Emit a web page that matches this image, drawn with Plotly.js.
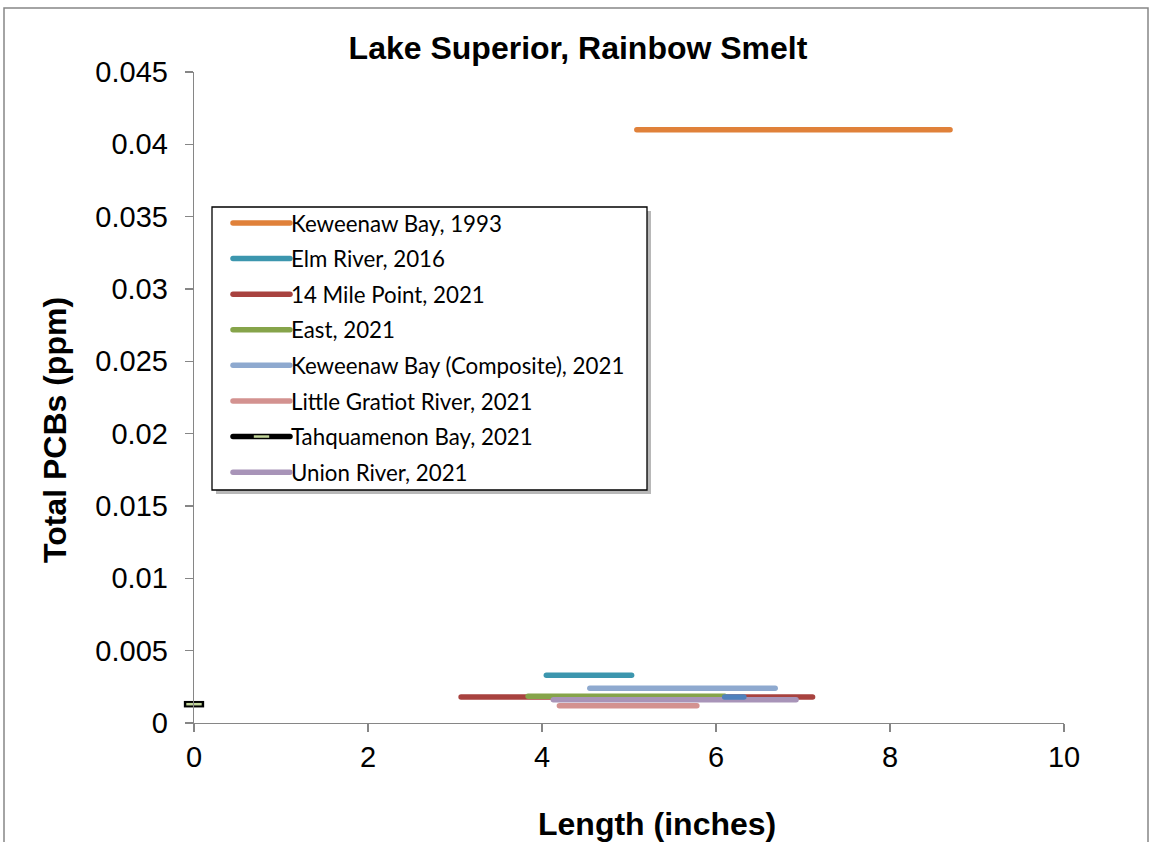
<!DOCTYPE html>
<html>
<head>
<meta charset="utf-8">
<script src="https://cdn.plot.ly/plotly-3.0.1.min.js"></script>
<style>
html, body { margin: 0; padding: 0; background: #fff; }
#chart { width: 1156px; height: 842px; }
</style>
</head>
<body>
<div id="chart"></div>
<script>
// ---- Data ----
const seriesNames = [
  "Keweenaw Bay, 1993",
  "Elm River, 2016",
  "14 Mile Point, 2021",
  "East, 2021",
  "Keweenaw Bay (Composite), 2021",
  "Little Gratiot River, 2021",
  "Tahquamenon Bay, 2021",
  "Union River, 2021"
];
const kb1993X = [5.09, 8.69];       const kb1993Y = [0.041, 0.041];
const elm2016X = [4.05, 5.03];      const elm2016Y = [0.0033, 0.0033];
const mile14X = [3.07, 7.11];       const mile14Y = [0.0018, 0.0018];
const eastX = [3.84, 6.1];          const eastY = [0.00185, 0.00185];
const kbCompX = [4.55, 6.68];       const kbCompY = [0.0024, 0.0024];
const gratiotX = [4.2, 5.78];       const gratiotY = [0.0012, 0.0012];
const tahqX = [0];                  const tahqY = [0.0013];
const unionX = [4.13, 6.92];        const unionY = [0.0016, 0.0016];
const extraX = [6.1, 6.32];         const extraY = [0.0018, 0.0018];

const xTickVals = [0, 2, 4, 6, 8, 10];
const xTickText = ["0", "2", "4", "6", "8", "10"];
const yTickVals = [0, 0.005, 0.01, 0.015, 0.02, 0.025, 0.03, 0.035, 0.04, 0.045];
const yTickText = ["0", "0.005", "0.01", "0.015", "0.02", "0.025", "0.03", "0.035", "0.04", "0.045"];

const colors = ["#e0813a", "#3c96ae", "#a8423f", "#86a44a", "#8ea9cf", "#d39290", "#000000", "#a894b8"];
const LW = 5.5;
const legendFont = "Lato, 'Open Sans', sans-serif";

function lineTrace(x, y, i) {
  return { type: "scatter", mode: "lines", x: x, y: y, name: seriesNames[i], legendgroup: "g" + i,
           line: { color: colors[i], width: LW }, hoverinfo: "skip" };
}

const traces = [
  lineTrace(kb1993X, kb1993Y, 0),
  lineTrace(elm2016X, elm2016Y, 1),
  lineTrace(mile14X, mile14Y, 2),
  lineTrace(eastX, eastY, 3),
  lineTrace(kbCompX, kbCompY, 4),
  lineTrace(gratiotX, gratiotY, 5),
  // black backing for Tahquamenon marker (no legend)
  { type: "scatter", mode: "markers", x: tahqX, y: tahqY, showlegend: false, cliponaxis: false, legendgroup: "g6",
    marker: { symbol: "line-ew", size: 14.5, color: "#000", line: { color: "#000", width: 6.5 } }, hoverinfo: "skip" },
  { type: "scatter", mode: "lines+markers", x: tahqX, y: tahqY, name: seriesNames[6], cliponaxis: false, legendgroup: "g6",
    line: { color: "#000", width: LW },
    marker: { symbol: "line-ew", size: 11, color: "#c3d69b", line: { color: "#c3d69b", width: 2.5 } }, hoverinfo: "skip" },
  lineTrace(unionX, unionY, 7),
  { type: "scatter", mode: "lines", x: extraX, y: extraY, showlegend: false, legendgroup: "g9",
    line: { color: "#4f81bd", width: LW }, hoverinfo: "skip" }
];

const L = 194, R = 1064, T = 72, B = 723, W = 1156, H = 842;
const pw = R - L, ph = B - T;
const px = v => (v - L) / pw;
const py = v => (B - v) / ph;

const layout = {
  width: W, height: H,
  margin: { l: L, r: W - R, t: T, b: H - B, pad: 0 },
  paper_bgcolor: "#fff", plot_bgcolor: "#fff",
  font: { family: "Arial, 'Liberation Sans', sans-serif", color: "#000" },
  title: { text: "Lake Superior, Rainbow Smelt", x: 0.5, xref: "container", xanchor: "center",
           y: 1 - 48 / H, yref: "container", yanchor: "middle",
           font: { size: 32, weight: "bold", family: "Arial, 'Liberation Sans', sans-serif", color: "#000" } },
  xaxis: {
    range: [0, 10], tickvals: xTickVals, ticktext: xTickText,
    showgrid: false, zeroline: false, showline: true, linecolor: "#868686", linewidth: 1.3,
    ticks: "outside", ticklen: 8, tickcolor: "#868686", tickwidth: 1.3,
    tickfont: { size: 29, color: "#000" }, fixedrange: true
  },
  yaxis: {
    range: [0, 0.045], tickvals: yTickVals, ticktext: yTickText,
    showgrid: false, zeroline: false, showline: true, linecolor: "#868686", linewidth: 1.3,
    ticks: "outside", ticklen: 8, tickcolor: "#868686", tickwidth: 1.3,
    tickfont: { size: 29, color: "#000" }, ticklabelstandoff: 11, fixedrange: true
  },
  showlegend: true,
  legend: {
    x: px(212), y: py(202), xanchor: "left", yanchor: "top",
    bgcolor: "rgba(0,0,0,0)", borderwidth: 0,
    font: { size: 22.3, family: legendFont, color: "#000" },
    itemwidth: 69, tracegroupgap: 3.6, traceorder: "grouped"
  },
  annotations: [
    { text: "Total PCBs (ppm)", xref: "paper", yref: "paper", x: px(55), y: py(430),
      xanchor: "center", yanchor: "middle", textangle: -90, showarrow: false,
      font: { size: 32, weight: "bold", color: "#000" } },
    { text: "Length (inches)", xref: "paper", yref: "paper", x: px(657), y: py(824),
      xanchor: "center", yanchor: "middle", showarrow: false,
      font: { size: 32, weight: "bold", color: "#000" } }
  ],
  shapes: [
    // outer chart-area border
    { type: "rect", xref: "paper", yref: "paper", layer: "below",
      x0: px(4), x1: px(1148), y0: py(8), y1: py(900),
      line: { color: "#868686", width: 1.5 }, fillcolor: "rgba(0,0,0,0)" },
    // legend shadow
    { type: "rect", xref: "paper", yref: "paper", layer: "above",
      x0: px(216), x1: px(651), y0: py(211), y1: py(494),
      line: { width: 0 }, fillcolor: "rgba(0,0,0,0.28)" },
    // legend box
    { type: "rect", xref: "paper", yref: "paper", layer: "above",
      x0: px(212), x1: px(647), y0: py(207), y1: py(490),
      line: { color: "#000", width: 1.3 }, fillcolor: "#fff" }
  ]
};

Plotly.newPlot("chart", traces, layout, { displayModeBar: false, staticPlot: true }).then(gd => {
  // round caps for data lines (as in the reference)
  gd.querySelectorAll(".scatterlayer path.js-line").forEach(p => p.style.strokeLinecap = "round");
  // legend line samples: longer and offset like the reference
  gd.querySelectorAll(".legend .legendlines path").forEach(p => {
    p.setAttribute("d", "M21,0h57");
    p.style.strokeLinecap = "round";
  });
  gd.querySelectorAll(".legend .legendpoints path").forEach(p => {
    p.setAttribute("transform", "translate(49.5,0)");
  });
});
</script>
</body>
</html>
